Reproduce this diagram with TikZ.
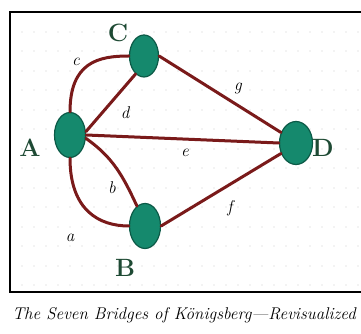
\documentclass[tikz,border=0pt]{standalone}
\usetikzlibrary{shapes.geometric}
\definecolor{nodefill}{HTML}{15896D}
\definecolor{nodeedge}{HTML}{0C5A47}
\definecolor{bridge}{HTML}{7A1A1A}
\definecolor{vlabel}{HTML}{1E4A34}
\begin{document}
\begin{tikzpicture}[x=1pt,y=1pt,
  land/.style={ellipse,draw=nodeedge,line width=1.2pt,fill=nodefill,inner sep=0pt},
  bridgeline/.style={draw=bridge,line width=3pt,line cap=round},
  vname/.style={text=vlabel,font=\bfseries\fontsize{25}{28}\selectfont,inner sep=0pt},
  ename/.style={text=black,font=\itshape\fontsize{17}{19}\selectfont,inner sep=0pt},
  gdot/.style={fill=black!20,draw=none}]
\useasboundingbox (0,0) rectangle (361,334);
\fill[white] (0,0) rectangle (361,334);
% dotted grid
\foreach \yy in {302,283,263,244,224,205,185,166,146,127,107,88,68,49}{
  \foreach \xx in {22,34,...,358}{
    \fill[gdot] (\xx,\yy) circle (0.6pt);
  }
}
% frame
\draw[line width=2pt,black] (372,322) -- (10,322) -- (10,42) -- (372,42);
% lands
\node[land,minimum width=31pt,minimum height=45pt] (A) at (70,199) {};
\node[land,minimum width=29pt,minimum height=42pt] (C) at (144,278) {};
\node[land,minimum width=31pt,minimum height=45pt] (B) at (145,108) {};
\node[land,minimum width=33pt,minimum height=43pt] (D) at (296,191) {};
% bridges
\draw[bridgeline] (A.north) .. controls +(0,50) and +(-30,0) .. (C.west);
\draw[bridgeline] (A.south) .. controls +(0,-52) and +(-30,0) .. (B.west);
\draw[bridgeline] (A.12) -- (C.-115);
\draw[bridgeline] (A.east) -- (D.west);
\draw[bridgeline] (A.-12) to[out=-35,in=115] (B.112);
\draw[bridgeline] (C.east) -- (D.145);
\draw[bridgeline] (B.east) -- (D.-145);
% vertex labels
\node[vname] (lA) at (30,186) {A};
\node[vname] (lC) at (118,301) {C};
\node[vname] (lB) at (125,66) {B};
\node[vname] (lD) at (323,186) {D};
% bridge labels
\node[ename] (ec) at (76,272) {c};
\node[ename] (ed) at (125,221) {d};
\node[ename] (eg) at (238,246) {g};
\node[ename] (ee) at (185,181) {e};
\node[ename] (eb) at (112,146) {b};
\node[ename] (ef) at (230,126) {f};
\node[ename] (ea) at (70,96) {a};
% title
\node[font=\itshape\fontsize{17}{20}\selectfont,inner sep=0pt] (title) at (184,19) {The Seven Bridges of Königsberg—Revisualized};
\end{tikzpicture}
\end{document}
